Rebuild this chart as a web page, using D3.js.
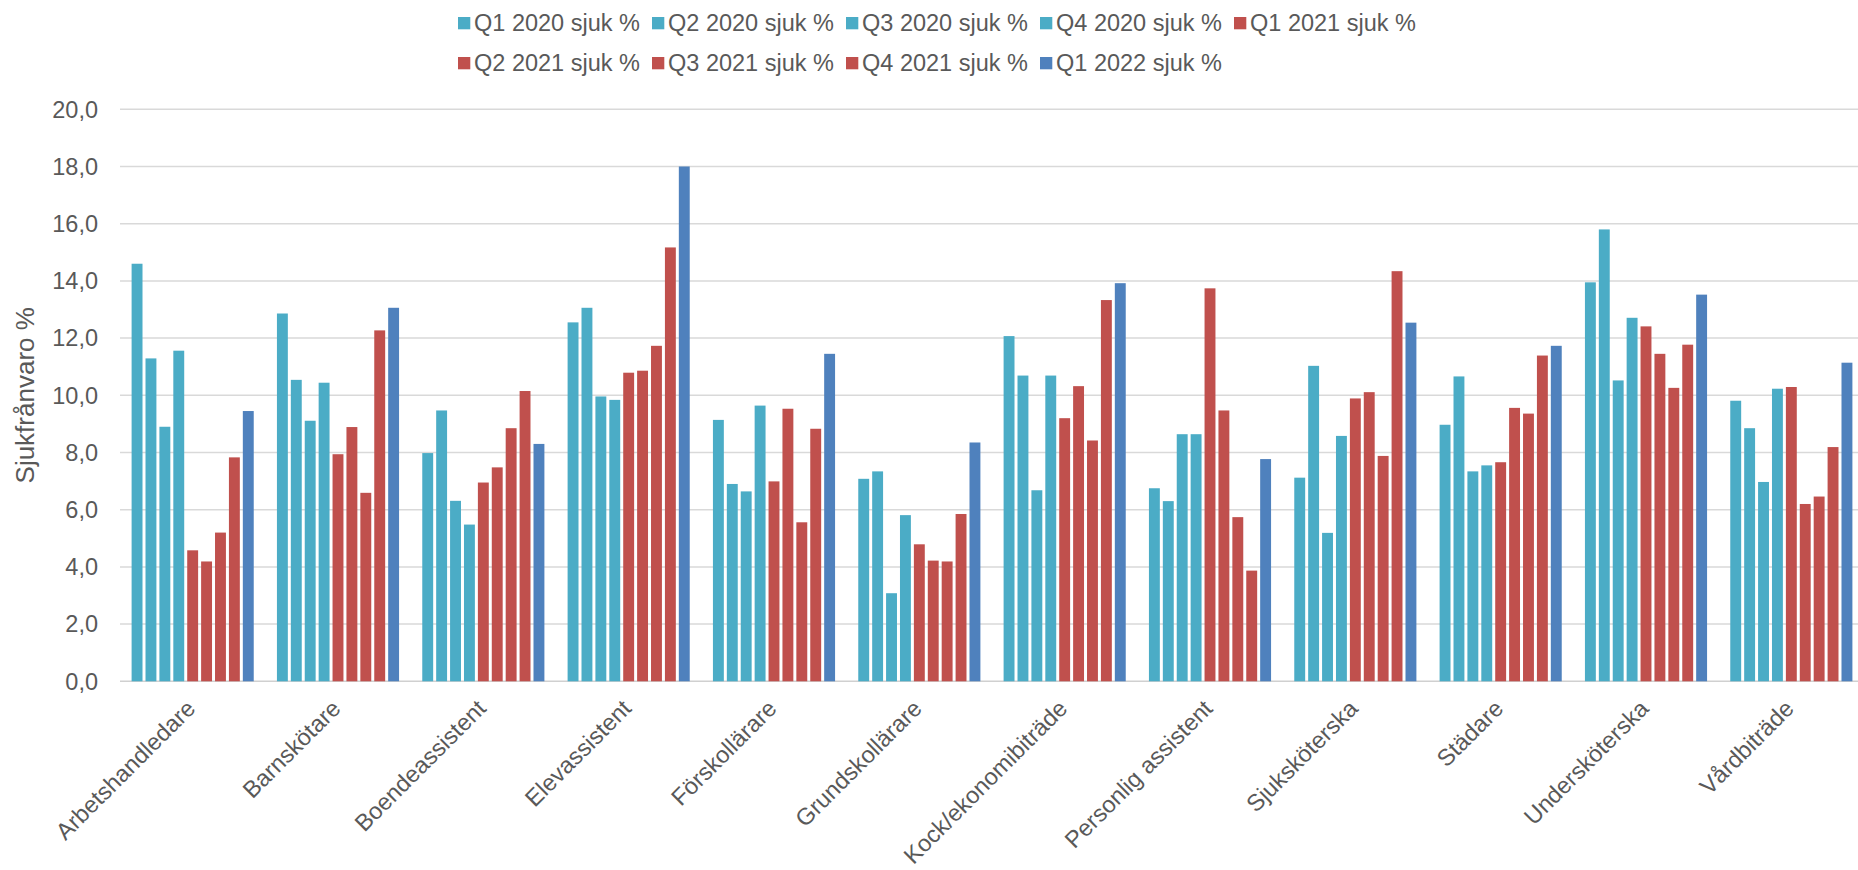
<!DOCTYPE html>
<html>
<head>
<meta charset="utf-8">
<script src="https://cdn.jsdelivr.net/npm/d3@7"></script>
<style>
    body { margin: 0; background: #fff; }
    text { font-family: "Liberation Sans", Arial, sans-serif; fill: #595959; }
</style>
</head>
<body>
<svg width="1858" height="870"></svg>
<script>
const categories = ['Arbetshandledare', 'Barnskötare', 'Boendeassistent', 'Elevassistent', 'Förskollärare', 'Grundskollärare',
    'Kock/ekonomibiträde', 'Personlig assistent', 'Sjuksköterska', 'Städare', 'Undersköterska', 'Vårdbiträde'];

const seriesNames = ['Q1 2020 sjuk %', 'Q2 2020 sjuk %', 'Q3 2020 sjuk %', 'Q4 2020 sjuk %', 'Q1 2021 sjuk %',
    'Q2 2021 sjuk %', 'Q3 2021 sjuk %', 'Q4 2021 sjuk %', 'Q1 2022 sjuk %'];

const q1_2020 = [14.6, 12.86, 7.98, 12.55, 9.14, 7.08, 12.07, 6.75, 7.12, 8.97, 13.95, 9.81];
const q2_2020 = [11.29, 10.54, 9.47, 13.06, 6.9, 7.34, 10.69, 6.3, 11.03, 10.66, 15.8, 8.85];
const q3_2020 = [8.9, 9.11, 6.31, 9.96, 6.64, 3.08, 6.68, 8.64, 5.19, 7.34, 10.52, 6.97];
const q4_2020 = [11.56, 10.44, 5.48, 9.84, 9.64, 5.81, 10.69, 8.64, 8.58, 7.55, 12.71, 10.23];
const q1_2021 = [4.58, 7.94, 6.95, 10.79, 6.99, 4.79, 9.2, 13.74, 9.89, 7.66, 12.41, 10.29];
const q2_2021 = [4.19, 8.89, 7.48, 10.86, 9.53, 4.22, 10.32, 9.47, 10.11, 9.56, 11.45, 6.2];
const q3_2021 = [5.2, 6.59, 8.85, 11.73, 5.56, 4.19, 8.42, 5.74, 7.88, 9.36, 10.26, 6.46];
const q4_2021 = [7.83, 12.27, 10.15, 15.17, 8.83, 5.85, 13.33, 3.87, 14.34, 11.39, 11.77, 8.19];
const q1_2022 = [9.45, 13.06, 8.3, 18.0, 11.45, 8.35, 13.92, 7.77, 12.54, 11.73, 13.52, 11.14];

const yTicks = [0, 2, 4, 6, 8, 10, 12, 14, 16, 18, 20];

const values = [q1_2020, q2_2020, q3_2020, q4_2020, q1_2021, q2_2021, q3_2021, q4_2021, q1_2022];
const colors = ['#4BACC6', '#4BACC6', '#4BACC6', '#4BACC6', '#C0504D', '#C0504D', '#C0504D', '#C0504D', '#4F81BD'];

const svg = d3.select('svg');

const x0 = d3.scaleBand().domain(categories).range([120, 1864]).paddingInner(0.139).paddingOuter(0.0695);
const x1 = d3.scaleBand().domain(seriesNames).range([0, x0.bandwidth()]);
const y = d3.scaleLinear().domain([0, 20]).range([681.3, 109.3]);

const comma = d3.formatLocale({ decimal: ',', thousands: ' ', grouping: [3], currency: ['', ''] }).format('.1f');

// gridlines + y labels
const grid = svg.append('g')
    .selectAll('g')
    .data(yTicks)
    .join('g')
    .attr('transform', d => `translate(0, ${y(d)})`);

grid.append('line')
    .attr('x1', 120)
    .attr('x2', 1864)
    .attr('stroke', d => d == 0 ? '#d0d0d0' : '#d9d9d9')
    .attr('stroke-width', 1.5);

grid.append('text')
    .text(d => comma(d))
    .attr('x', 98)
    .attr('dy', '0.35em')
    .attr('text-anchor', 'end')
    .style('font-size', '23.5px');

// bars
const groupe = svg.append('g')
    .selectAll('g')
    .data(categories)
    .join('g')
    .attr('transform', d => `translate(${x0(d)}, 0)`);

groupe.selectAll('rect')
    .data((cat, i) => seriesNames.map((s, j) => ({ serie: s, value: values[j][i], color: colors[j] })))
    .join('rect')
    .attr('x', d => x1(d.serie) + 1.5)
    .attr('width', x1.bandwidth() - 3)
    .attr('y', d => y(d.value))
    .attr('height', d => y(0) - y(d.value))
    .attr('fill', d => d.color);

// category labels
svg.append('g')
    .selectAll('text')
    .data(categories)
    .join('text')
    .text(d => d)
    .attr('text-anchor', 'end')
    .attr('transform', d => `translate(${x0(d) + x0.bandwidth() / 2 + 4}, 710) rotate(-45)`)
    .style('font-size', '23.5px');

// axis title
svg.append('text')
    .text('Sjukfrånvaro %')
    .attr('text-anchor', 'middle')
    .attr('transform', `translate(34, ${(y(0) + y(20)) / 2}) rotate(-90)`)
    .style('font-size', '26px');

// legend, two rows
const legende = svg.append('g')
    .selectAll('g')
    .data(seriesNames)
    .join('g')
    .attr('transform', (d, i) => `translate(${458 + (i % 5) * 194}, ${i < 5 ? 23 : 63})`);

legende.append('rect')
    .attr('y', -6)
    .attr('width', 12.3)
    .attr('height', 12.3)
    .attr('fill', (d, i) => colors[i]);

legende.append('text')
    .text(d => d)
    .attr('x', 16)
    .attr('dy', '0.35em')
    .style('font-size', '23.5px');
</script>
</body>
</html>
